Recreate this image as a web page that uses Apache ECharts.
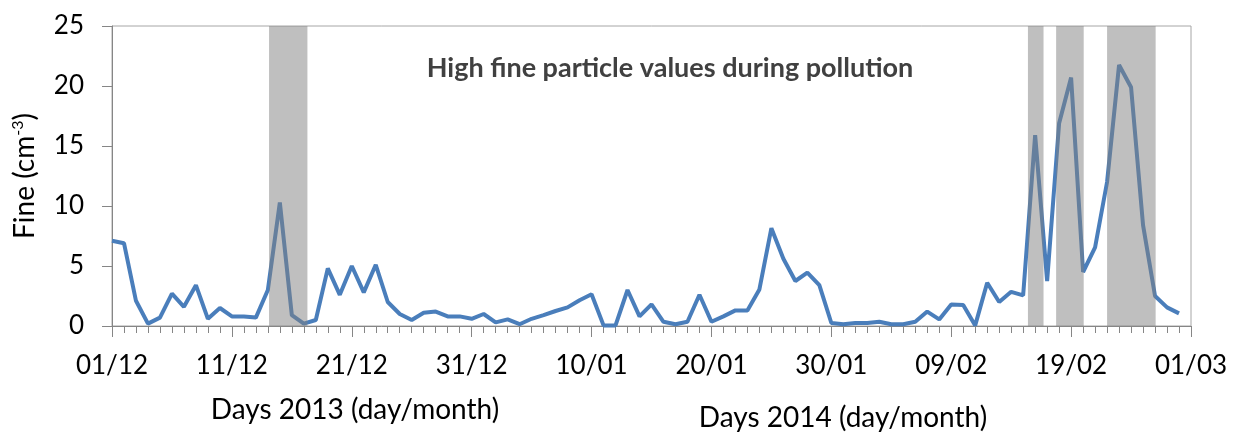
<!DOCTYPE html>
<html>
<head>
<meta charset="utf-8">
<script src="https://cdn.jsdelivr.net/npm/echarts@6/dist/echarts.min.js"></script>
<style>
html,body{margin:0;padding:0;background:#fff;}
#chart{width:1239px;height:432px;}
</style>
</head>
<body>
<div id="chart"></div>
<script>
// Day offsets from 01/12/2013 (0..89) and fine-particle values
const fineValues = [
  7.1, 6.9, 2.1, 0.2, 0.7, 2.7, 1.6, 3.4, 0.6, 1.5,
  0.8, 0.8, 0.7, 3.0, 10.3, 0.9, 0.2, 0.5, 4.8, 2.6,
  5.0, 2.8, 5.1, 2.0, 1.0, 0.5, 1.1, 1.2, 0.8, 0.8,
  0.6, 1.0, 0.3, 0.55, 0.15, 0.6, 0.9, 1.25, 1.55, 2.15,
  2.65, 0.05, 0.05, 3.0, 0.8, 1.8, 0.35, 0.15, 0.35, 2.6,
  0.35, 0.8, 1.3, 1.3, 3.05, 8.15, 5.6, 3.75, 4.45, 3.4,
  0.25, 0.15, 0.25, 0.25, 0.35, 0.15, 0.15, 0.35, 1.2, 0.55,
  1.8, 1.75, 0.05, 3.6, 2.0, 2.85, 2.55, 15.9, 3.75, 16.9,
  20.7, 4.5, 6.55, 12.0, 21.75, 19.9, 8.4, 2.5, 1.55, 1.05
];
const xTickLabels = ['01/12','11/12','21/12','31/12','10/01','20/01','30/01','09/02','19/02','01/03'];
// Pollution episodes (start day, end day)
const pollutionBands = [
  [13.1, 16.3],
  [76.4, 77.7],
  [78.75, 81.05],
  [83.0, 87.05]
];
const titleText = 'High fine particle values during pollution';
const xName2013 = 'Days 2013 (day/month)';
const xName2014 = 'Days 2014 (day/month)';

const lineData = fineValues.map((v, i) => [i, v]);
const FONT = 'Lato';

const chart = echarts.init(document.getElementById('chart'), null, {renderer: 'canvas'});
chart.setOption({
  animation: false,
  backgroundColor: '#ffffff',
  textStyle: {fontFamily: FONT},
  grid: {left: 112, right: 48, top: 26, bottom: 106, show: true, borderColor: '#a6a6a6', borderWidth: 1, backgroundColor: 'transparent'},
  graphic: [
    {type: 'text', x: 670, y: 68, style: {text: titleText, font: 'bold 27px Lato', fill: '#404040', align: 'center', verticalAlign: 'middle'}},
    {type: 'text', x: 355, y: 410, style: {text: xName2013, font: '28px Lato', fill: '#000', align: 'center', verticalAlign: 'middle'}},
    {type: 'text', x: 843, y: 418, style: {text: xName2014, font: '28px Lato', fill: '#000', align: 'center', verticalAlign: 'middle'}}
  ],
  xAxis: {
    type: 'value', min: 0, max: 90, interval: 10,
    axisLine: {show: true, onZero: false, lineStyle: {color: '#868686', width: 1}},
    axisTick: {show: true, length: 11, lineStyle: {color: '#868686'}},
    minorTick: {show: true, splitNumber: 10, length: 7, lineStyle: {color: '#868686'}},
    splitLine: {show: false},
    axisLabel: {
      margin: 27, fontSize: 26, color: '#000', fontFamily: FONT,
      formatter: v => xTickLabels[Math.round(v / 10)]
    }
  },
  yAxis: {
    type: 'value', min: 0, max: 25, interval: 5,
    name: '{a|Fine (cm}{s|-3}{a|)}',
    nameLocation: 'middle', nameGap: 72, nameRotate: 90,
    nameTextStyle: {
      rich: {
        a: {fontSize: 28, fontFamily: FONT, color: '#000'},
        s: {fontSize: 16, fontFamily: FONT, color: '#000', verticalAlign: 'top', padding: [0, 0, 14, 0]}
      }
    },
    axisLine: {show: true, lineStyle: {color: '#868686', width: 1}},
    axisTick: {show: true, length: 10, lineStyle: {color: '#868686'}},
    splitLine: {show: false},
    axisLabel: {margin: 28, fontSize: 26, color: '#000', fontFamily: FONT}
  },
  series: [
    {
      type: 'line', data: lineData, z: 2, symbol: 'none',
      lineStyle: {color: '#4a7ebb', width: 4}, itemStyle: {color: '#4a7ebb'}
    },
    {
      type: 'custom', z: 5, data: pollutionBands,
      renderItem: function (params, api) {
        const p0 = api.coord([api.value(0), 25]);
        const p1 = api.coord([api.value(1), 0]);
        return {
          type: 'rect',
          shape: {x: p0[0], y: p0[1], width: p1[0] - p0[0], height: p1[1] - p0[1]},
          style: {fill: 'rgba(128,128,128,0.5)'}
        };
      },
      encode: {x: [0, 1]}
    }
  ]
});
</script>
</body>
</html>
